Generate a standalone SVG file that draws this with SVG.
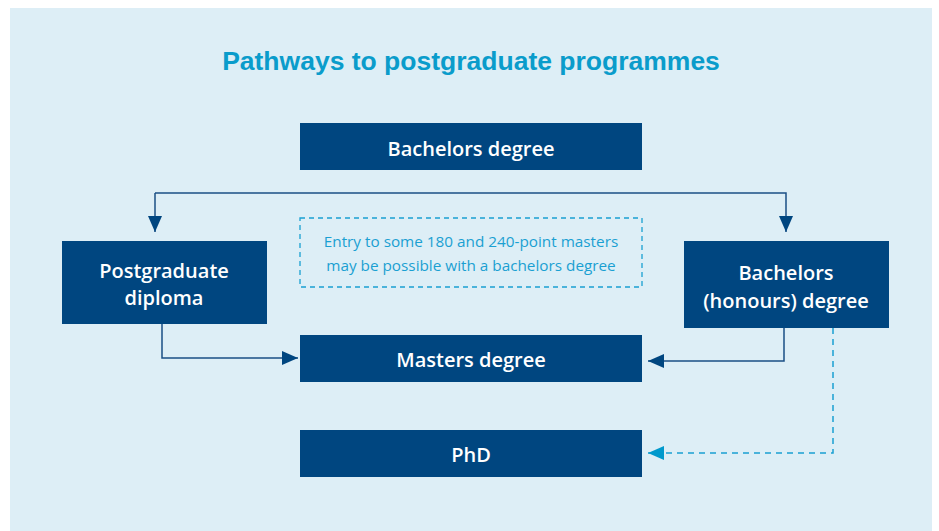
<svg xmlns="http://www.w3.org/2000/svg" width="939" height="531" viewBox="0 0 939 531">
<defs>
<style>
.bg{fill:#ddeef6}
.box{fill:#004680}
.bt{fill:#ffffff;font-family:"Open Sans","Liberation Sans",sans-serif;font-weight:600;font-size:20px;text-anchor:middle}
.title{fill:#0a9ccb;font-family:"Liberation Sans","Open Sans",sans-serif;font-weight:bold;font-size:26.5px;text-anchor:middle}
.note{fill:#1aa0d2;font-family:"Open Sans","Liberation Sans",sans-serif;font-size:15.3px;text-anchor:middle}
.ln{fill:none;stroke:#1a4f85;stroke-width:1.5}
.dl{fill:none;stroke:#1aa0d2;stroke-width:1.5;stroke-dasharray:6 5}
</style>
<marker id="ah" viewBox="0 0 16 14" refX="16" refY="7" markerWidth="16" markerHeight="14" markerUnits="userSpaceOnUse" orient="auto">
<path d="M0,0 L16,7 L0,14 Z" fill="#004680"/>
</marker>
<marker id="ahd" viewBox="0 0 16 14" refX="16" refY="7" markerWidth="16" markerHeight="14" markerUnits="userSpaceOnUse" orient="auto">
<path d="M0,0 L16,7 L0,14 Z" fill="#0099cc"/>
</marker>
</defs>
<rect class="bg" x="10" y="8" width="922" height="523"/>
<text class="title" x="471" y="70">Pathways to postgraduate programmes</text>

<g id="connectors">
<path class="ln" d="M155,193 L786,193 L786,232" marker-end="url(#ah)"/>
<path class="ln" d="M155,193 L155,232" marker-end="url(#ah)"/>
<path class="ln" d="M162,324 L162,358 L298,358" marker-end="url(#ah)"/>
<path class="ln" d="M784,328 L784,361 L648,361" marker-end="url(#ah)"/>
<path class="dl" d="M833,328 L833,453 L648,453" marker-end="url(#ahd)"/>
</g>

<g id="bachelors">
<rect class="box" x="300" y="123" width="342" height="47"/>
<text class="bt" x="471" y="156">Bachelors degree</text>
</g>
<g id="note">
<rect x="300" y="218" width="342" height="69" fill="none" stroke="#1aa0d2" stroke-width="1.3" stroke-dasharray="5 4"/>
<text class="note" x="471" y="247">Entry to some 180 and 240-point masters</text>
<text class="note" x="471" y="271">may be possible with a bachelors degree</text>
</g>
<g id="pgdip">
<rect class="box" x="62" y="241" width="205" height="83"/>
<text class="bt" x="164" y="278">Postgraduate</text>
<text class="bt" x="164" y="305">diploma</text>
</g>
<g id="honours">
<rect class="box" x="684" y="241" width="205" height="87"/>
<text class="bt" x="786" y="280">Bachelors</text>
<text class="bt" x="786" y="308">(honours) degree</text>
</g>
<g id="masters">
<rect class="box" x="300" y="335" width="342" height="47"/>
<text class="bt" x="471" y="367">Masters degree</text>
</g>
<g id="phd">
<rect class="box" x="300" y="430" width="342" height="47"/>
<text class="bt" x="471" y="462">PhD</text>
</g>
</svg>
